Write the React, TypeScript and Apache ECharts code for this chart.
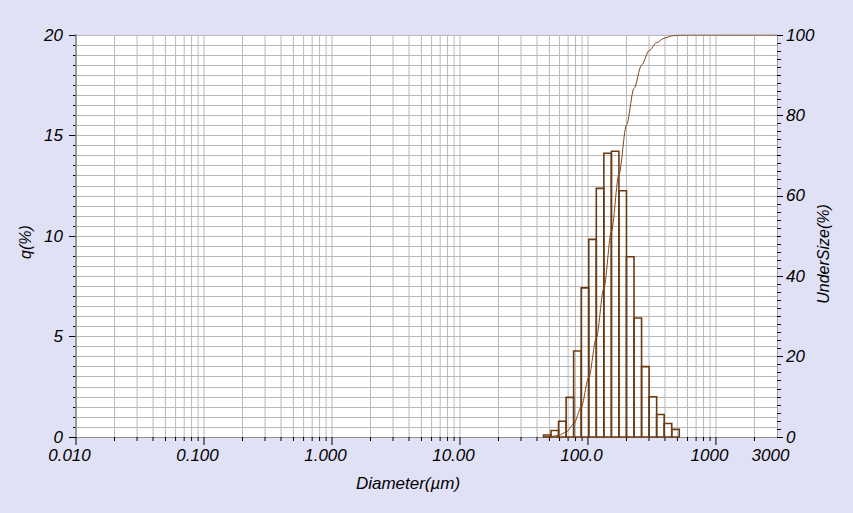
import React, { useEffect, useRef } from "react";
import * as echarts from "echarts";

// Histogram bin edges (µm) and frequency q(%) per bin
const binEdges = [44.938, 51.471, 58.953, 67.523, 77.339, 88.583, 101.46, 116.21, 133.1, 152.45, 174.61, 200.0, 229.07, 262.37, 300.51, 344.19, 394.22, 451.52, 517.15];
const qValues = [0.1, 0.32, 0.78, 1.97, 4.28, 7.42, 9.83, 12.37, 14.12, 14.22, 12.25, 8.97, 5.92, 3.5, 2.0, 1.12, 0.67, 0.38];

// Cumulative undersize curve (%)
const undersizeDiameters = [44.938, 51.471, 58.953, 67.523, 77.339, 88.583, 101.46, 116.21, 133.1, 152.45, 174.61, 200.0, 229.07, 262.37, 300.51, 344.19, 394.22, 451.52, 517.15, 592.33, 3000];
const undersizeValues = [0, 0.1, 0.4, 1.2, 3.2, 7.4, 14.8, 24.6, 37.0, 51.1, 65.3, 77.6, 86.7, 92.5, 96.1, 98.1, 99.2, 99.8, 99.95, 100, 100];

// Axis tick labels
const xTickValues = [0.01, 0.1, 1, 10, 100, 1000, 3000];
const xTickLabels = ["0.010", "0.100", "1.000", "10.00", "100.0", "1000", "3000"];
const gridDecades = [0.01, 0.1, 1, 10, 100, 1000];
const gridMultipliers = [1, 2, 3, 4, 5, 6, 7, 8, 9];

const FONT = "'Liberation Sans', Arial, sans-serif";
const BROWN = "#6b3a12";
const GRID = "#b9b9b9";

export default function App() {
  const ref = useRef<HTMLDivElement>(null);
  useEffect(() => {
    if (!ref.current) return;
    const chart = echarts.init(ref.current, undefined, { renderer: "svg" });
    const xMin = Math.log10(xTickValues[0]);
    const xMax = Math.log10(xTickValues[xTickValues.length - 1]);
    const gridValues: number[] = [];
    gridDecades.forEach((d) =>
      gridMultipliers.forEach((m) => {
        const v = d * m;
        if (v < 3000) gridValues.push(v);
      })
    );
    const labelStyle = {
      fontFamily: FONT,
      fontStyle: "italic" as const,
      fontSize: 17,
      color: "#000",
    };
    chart.setOption({
      animation: false,
      backgroundColor: "#e1e1f6",
      grid: {
        left: 76,
        top: 35,
        width: 701,
        height: 402,
        show: true,
        backgroundColor: "#ffffff",
        borderWidth: 0,
      },
      xAxis: {
        type: "value",
        min: xMin,
        max: xMax,
        interval: 1,
        axisLine: { show: true, onZero: false, lineStyle: { color: "#909090", width: 1 } },
        axisTick: { show: false },
        splitLine: { show: false },
        axisLabel: {
          ...labelStyle,
          margin: 10,
          padding: [0, 13, 0, 0],
          formatter: (val: number) => {
            let best = -1;
            xTickValues.forEach((t, i) => {
              if (Math.abs(Math.log10(t) - val) < 1e-6) best = i;
            });
            return best >= 0 ? xTickLabels[best] : "";
          },
        },
      },
      yAxis: [
        {
          type: "value",
          min: 0,
          max: 20,
          interval: 5,
          position: "left",
          axisLine: { show: true, onZero: false, lineStyle: { color: "#505050", width: 1.5 } },
          axisTick: { show: true, length: 7, lineStyle: { color: "#000" } },
          minorTick: { show: true, splitNumber: 10, length: 3, lineStyle: { color: "#000" } },
          splitLine: { show: true, lineStyle: { color: GRID, width: 1 } },
          minorSplitLine: { show: true, lineStyle: { color: GRID, width: 1 } },
          axisLabel: { ...labelStyle, margin: 13, padding: [0, 0, 3, 0] },
        },
        {
          type: "value",
          min: 0,
          max: 100,
          interval: 20,
          position: "right",
          axisLine: { show: true, onZero: false, lineStyle: { color: "#a0a0a0", width: 1 } },
          axisTick: { show: true, length: 6, lineStyle: { color: "#000" } },
          minorTick: { show: true, splitNumber: 10, length: 4, lineStyle: { color: "#000" } },
          splitLine: { show: false },
          axisLabel: { ...labelStyle, margin: 9, padding: [0, 0, 4, 0] },
        },
      ],
      graphic: [
        {
          type: "text",
          x: 25,
          y: 242,
          rotation: Math.PI / 2,
          style: { text: "q(%)", font: "italic 16px " + FONT, fill: "#000", align: "center", verticalAlign: "middle" },
        },
        {
          type: "text",
          x: 823,
          y: 254,
          rotation: Math.PI / 2,
          style: { text: "UnderSize(%)", font: "italic 16px " + FONT, fill: "#000", align: "center", verticalAlign: "middle" },
        },
        {
          type: "text",
          x: 408,
          y: 483,
          style: { text: "Diameter(µm)", font: "italic 17px " + FONT, fill: "#000", align: "center", verticalAlign: "middle" },
        },
      ],
      series: [
        {
          type: "custom",
          xAxisIndex: 0,
          yAxisIndex: 0,
          silent: true,
          z: 1,
          clip: false,
          data: gridValues.map((v) => [Math.log10(v), 0]),
          renderItem: (_p: any, api: any) => {
            const x = api.value(0);
            const b = api.coord([x, 0]);
            const t = api.coord([x, 20]);
            const major = Math.abs(x - Math.round(x)) < 1e-6;
            return {
              type: "group",
              children: [
                {
                  type: "line",
                  shape: { x1: b[0], y1: t[1], x2: b[0], y2: b[1] },
                  style: { stroke: GRID, lineWidth: 1 },
                },
                {
                  type: "line",
                  shape: { x1: b[0], y1: b[1], x2: b[0], y2: b[1] + (major ? 8 : 4) },
                  style: { stroke: "#000", lineWidth: 1 },
                },
              ],
            };
          },
        },
        {
          type: "custom",
          xAxisIndex: 0,
          yAxisIndex: 0,
          silent: true,
          z: 3,
          data: qValues.map((q, i) => [Math.log10(binEdges[i]), Math.log10(binEdges[i + 1]), q]),
          encode: { x: [0, 1], y: 2 },
          renderItem: (_p: any, api: any) => {
            const a = api.coord([api.value(0), api.value(2)]);
            const b = api.coord([api.value(1), 0]);
            return {
              type: "rect",
              shape: { x: a[0], y: a[1], width: b[0] - a[0], height: b[1] - a[1] },
              style: { fill: "none", stroke: BROWN, lineWidth: 1.6 },
            };
          },
        },
        {
          type: "line",
          xAxisIndex: 0,
          yAxisIndex: 1,
          z: 4,
          silent: true,
          showSymbol: false,
          smooth: 0.3,
          smoothMonotone: "x",
          lineStyle: { color: "#7a4520", width: 1 },
          data: undersizeDiameters.map((d, i) => [Math.log10(d), undersizeValues[i]]),
        },
      ],
    });
    return () => chart.dispose();
  }, []);
  return (
    <div
      ref={ref}
      style={{ position: "fixed", left: 0, top: 0, width: 853, height: 513, background: "#e1e1f6" }}
    />
  );
}
